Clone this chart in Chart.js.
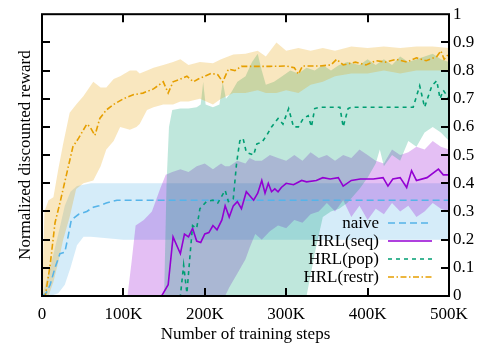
<!DOCTYPE html>
<html>
<head>
<meta charset="utf-8">
<script src="https://cdn.jsdelivr.net/npm/chart.js@4.4.0/dist/chart.umd.min.js"></script>
<style>
  html, body { margin: 0; padding: 0; background: #fff; }
  #wrap { width: 479px; height: 346px; }
</style>
</head>
<body>
<div id="wrap"><canvas id="chart" width="479" height="346"></canvas></div>
<script>
// steps are in thousands (K)

// naive
const naiveSteps = [0, 5, 10, 16, 22, 28, 32, 36, 45, 55, 63, 70, 79, 92, 500];
const naiveMean = [0, 0.01, 0.04, 0.1, 0.15, 0.155, 0.21, 0.27, 0.29, 0.3, 0.315, 0.32, 0.33, 0.34, 0.34];
const naiveBandSteps = [0, 10, 20, 28, 35, 43, 51, 60, 100, 500];
const naiveLow = [0, 0, 0.01, 0.04, 0.1, 0.18, 0.21, 0.21, 0.2, 0.2];
const naiveHigh = [0, 0.1, 0.22, 0.32, 0.37, 0.39, 0.395, 0.4, 0.4, 0.4];

// HRL(seq)
const seqSteps = [0, 147, 155, 161, 170, 175, 180, 185, 190, 195, 200, 205, 210, 215, 221, 225, 230, 235, 240, 245,
  251, 260, 265, 270, 274, 278, 282, 286, 290, 294, 300, 309, 319, 325, 337, 345, 354, 364, 370, 380,
  391, 407, 419, 425, 431, 440, 448, 454, 460, 473, 487, 493, 500];
const seqMean = [0, 0, 0.04, 0.21, 0.15, 0.22, 0.21, 0.24, 0.195, 0.19, 0.22, 0.225, 0.25, 0.235, 0.27, 0.32, 0.28, 0.32, 0.335, 0.31,
  0.37, 0.34, 0.365, 0.41, 0.365, 0.40, 0.37, 0.38, 0.37, 0.385, 0.40, 0.395, 0.41, 0.405, 0.41, 0.42, 0.415, 0.42, 0.39, 0.41,
  0.415, 0.415, 0.42, 0.39, 0.415, 0.42, 0.385, 0.445, 0.41, 0.42, 0.45, 0.43, 0.43];
const seqBandSteps = [0, 105, 110, 115, 125, 135, 145, 152, 160, 170, 180, 190, 200, 210, 220, 225, 230, 240, 250, 255,
  262, 270, 280, 290, 300, 310, 320, 330, 340, 350, 360, 370, 380, 390, 400, 410, 420, 430, 440, 450,
  460, 470, 480, 490, 500];
const seqLow = [0, 0, 0, 0, 0, 0, 0, 0, 0, 0, 0, 0, 0, 0, 0, 0, 0.03, 0.08, 0.13, 0.17,
  0.22, 0.2, 0.23, 0.25, 0.24, 0.27, 0.26, 0.29, 0.3, 0.33, 0.3, 0.34, 0.28, 0.32, 0.27, 0.31, 0.29, 0.33, 0.3, 0.32,
  0.28, 0.3, 0.33, 0.31, 0.3];
const seqHigh = [0, 0, 0.12, 0.25, 0.27, 0.3, 0.38, 0.43, 0.44, 0.45, 0.44, 0.46, 0.47, 0.45, 0.47, 0.46, 0.46, 0.48, 0.47, 0.49,
  0.48, 0.48, 0.5, 0.49, 0.48, 0.5, 0.48, 0.51, 0.49, 0.5, 0.48, 0.5, 0.49, 0.52, 0.5, 0.48, 0.47, 0.52, 0.5, 0.51,
  0.53, 0.52, 0.55, 0.53, 0.52];

// HRL(pop)
const popSteps = [0, 170, 174, 178, 182, 185, 190, 194, 202, 210, 216, 225, 229, 235, 239, 243, 247, 251, 260, 264,
  270, 276, 282, 290, 296, 303, 309, 315, 321, 327, 331, 335, 341, 366, 370, 376, 380, 456, 464, 470,
  479, 485, 489, 493, 500];
const popMean = [0, 0, 0.11, 0.01, 0.15, 0.25, 0.24, 0.31, 0.335, 0.34, 0.33, 0.375, 0.335, 0.345, 0.47, 0.55, 0.56, 0.51, 0.5, 0.54,
  0.545, 0.57, 0.6, 0.63, 0.61, 0.665, 0.6, 0.6, 0.63, 0.64, 0.6, 0.665, 0.67, 0.67, 0.6, 0.665, 0.67, 0.67, 0.746, 0.67,
  0.746, 0.764, 0.7, 0.73, 0.7];
const popBandSteps = [0, 150, 153, 156, 160, 170, 180, 190, 195, 198, 201, 210, 218, 222, 226, 232, 240, 250, 258, 265,
  270, 275, 285, 295, 305, 315, 325, 335, 345, 355, 365, 375, 390, 400, 410, 415, 420, 430, 440, 450,
  460, 470, 480, 490, 500];
const popLow = [0, 0, 0, 0, 0, 0, 0, 0, 0, 0, 0, 0, 0, 0, 0, 0, 0, 0, 0, 0,
  0, 0, 0, 0, 0, 0, 0, 0.15, 0.28, 0.3, 0.31, 0.33, 0.38, 0.42, 0.47, 0.52, 0.46, 0.5, 0.48, 0.55,
  0.53, 0.58, 0.6, 0.58, 0.55];
const popHigh = [0, 0, 0.4, 0.6, 0.66, 0.665, 0.665, 0.67, 0.68, 0.76, 0.68, 0.67, 0.68, 0.76, 0.7, 0.72, 0.76, 0.78, 0.83, 0.86,
  0.8, 0.75, 0.76, 0.78, 0.8, 0.79, 0.81, 0.8, 0.82, 0.8, 0.82, 0.83, 0.82, 0.84, 0.82, 0.83, 0.84, 0.82, 0.85, 0.83,
  0.84, 0.85, 0.86, 0.84, 0.83];

// HRL(restr)
const restrSteps = [0, 4, 10, 16, 22, 30, 38, 45, 51, 55, 59, 65, 71, 79, 88, 100, 112, 124, 137, 149,
  155, 161, 170, 178, 186, 192, 200, 208, 216, 222, 229, 237, 245, 260, 280, 300, 310, 315, 320, 340,
  355, 362, 370, 385, 398, 410, 422, 435, 448, 460, 472, 485, 490, 494, 500];
const restrMean = [0, 0, 0.11, 0.26, 0.33, 0.43, 0.53, 0.56, 0.59, 0.61, 0.6, 0.57, 0.63, 0.66, 0.68, 0.70, 0.714, 0.72, 0.735, 0.76,
  0.72, 0.76, 0.77, 0.78, 0.76, 0.77, 0.78, 0.79, 0.785, 0.76, 0.805, 0.8, 0.815, 0.815, 0.815, 0.816, 0.81, 0.787, 0.816, 0.816,
  0.82, 0.84, 0.82, 0.83, 0.82, 0.835, 0.83, 0.84, 0.83, 0.845, 0.835, 0.85, 0.87, 0.84, 0.86];
const restrBandSteps = [0, 3, 8, 14, 20, 26, 34, 42, 51, 63, 72, 79, 88, 96, 108, 116, 120, 129, 137, 149,
  161, 170, 180, 194, 210, 220, 235, 250, 265, 275, 288, 300, 315, 330, 345, 360, 380, 400, 420, 440,
  460, 480, 500];
const restrLow = [0, 0, 0, 0.05, 0.12, 0.2, 0.28, 0.38, 0.4, 0.41, 0.46, 0.52, 0.55, 0.6, 0.59, 0.6, 0.61, 0.66, 0.67, 0.68,
  0.68, 0.69, 0.69, 0.7, 0.68, 0.7, 0.72, 0.72, 0.73, 0.72, 0.72, 0.73, 0.72, 0.75, 0.76, 0.78, 0.79, 0.79, 0.8, 0.79,
  0.8, 0.8, 0.8];
const restrHigh = [0, 0.3, 0.34, 0.35, 0.45, 0.54, 0.65, 0.68, 0.71, 0.76, 0.74, 0.74, 0.77, 0.78, 0.8, 0.8, 0.79, 0.8, 0.81, 0.82,
  0.83, 0.84, 0.82, 0.83, 0.826, 0.84, 0.857, 0.86, 0.87, 0.85, 0.9, 0.87, 0.88, 0.87, 0.88, 0.87, 0.885, 0.88, 0.885, 0.88,
  0.885, 0.885, 0.88];

const legendLabels = ['naive', 'HRL(seq)', 'HRL(pop)', 'HRL(restr)'];

const colors = {
  naive: '#56b4e9',
  seq: '#9400d3',
  pop: '#009e73',
  restr: '#e69f00',
};
const bandColors = {
  naive: 'rgba(86, 180, 233, 0.25)',
  seq: 'rgba(148, 0, 211, 0.25)',
  pop: 'rgba(0, 158, 115, 0.25)',
  restr: 'rgba(230, 159, 0, 0.25)',
};

function toPoints(steps, values) {
  return steps.map((s, i) => ({ x: s, y: values[i] }));
}

function lineSet(label, steps, values, color, dash) {
  return {
    label: label,
    data: toPoints(steps, values),
    borderColor: color,
    borderWidth: 1.6,
    borderDash: dash,
    pointRadius: 0,
    tension: 0,
    fill: false,
  };
}

function bandPair(steps, low, high, color) {
  const base = {
    pointRadius: 0,
    borderWidth: 0,
    borderColor: 'rgba(0,0,0,0)',
    tension: 0,
  };
  return [
    Object.assign({ label: '', data: toPoints(steps, low), fill: false }, base),
    Object.assign({ label: '', data: toPoints(steps, high), fill: '-1', backgroundColor: color }, base),
  ];
}

// first index is drawn on top
const datasets = [
  lineSet('HRL(restr)', restrSteps, restrMean, colors.restr, [6, 2.5, 1.5, 2.5]),
  lineSet('HRL(pop)', popSteps, popMean, colors.pop, [4, 4]),
  lineSet('HRL(seq)', seqSteps, seqMean, colors.seq, []),
  lineSet('naive', naiveSteps, naiveMean, colors.naive, [7, 4]),
  ...bandPair(restrBandSteps, restrLow, restrHigh, bandColors.restr),
  ...bandPair(popBandSteps, popLow, popHigh, bandColors.pop),
  ...bandPair(seqBandSteps, seqLow, seqHigh, bandColors.seq),
  ...bandPair(naiveBandSteps, naiveLow, naiveHigh, bandColors.naive),
];

// gnuplot style frame with inward ticks, plus key in the lower right
const framePlugin = {
  id: 'frame',
  afterDraw(chart) {
    const ctx = chart.ctx;
    const area = chart.chartArea;
    const xs = chart.scales.x;
    const ys = chart.scales.y;
    const tickLen = 8;
    ctx.save();
    ctx.strokeStyle = '#000';
    ctx.lineWidth = 2;
    ctx.beginPath();
    for (let v = 100; v < 500; v += 100) {
      const px = Math.round(xs.getPixelForValue(v));
      ctx.moveTo(px, area.bottom);
      ctx.lineTo(px, area.bottom - tickLen);
      ctx.moveTo(px, area.top);
      ctx.lineTo(px, area.top + tickLen);
    }
    for (let i = 1; i < 10; i++) {
      const py = Math.round(ys.getPixelForValue(i / 10));
      ctx.moveTo(area.left, py);
      ctx.lineTo(area.left + tickLen, py);
      ctx.moveTo(area.right, py);
      ctx.lineTo(area.right - tickLen, py);
    }
    ctx.stroke();
    ctx.strokeRect(area.left, area.top, area.right - area.left, area.bottom - area.top);

    // key
    ctx.font = '17px "Liberation Serif"';
    ctx.textAlign = 'right';
    ctx.textBaseline = 'middle';
    legendLabels.forEach((label, i) => {
      const ds = chart.data.datasets.find(d => d.label === label);
      const y = 223 + i * 18;
      ctx.fillStyle = '#000';
      ctx.fillText(label, 379, y + 1);
      ctx.strokeStyle = ds.borderColor;
      ctx.lineWidth = ds.borderWidth;
      ctx.setLineDash(ds.borderDash || []);
      ctx.beginPath();
      ctx.moveTo(388, y);
      ctx.lineTo(432, y);
      ctx.stroke();
    });
    ctx.restore();
  },
};

Chart.defaults.font.family = '"Liberation Serif", "Times New Roman", serif';
Chart.defaults.font.size = 17;
Chart.defaults.color = '#000';

new Chart(document.getElementById('chart'), {
  type: 'line',
  data: { datasets: datasets },
  options: {
    responsive: false,
    animation: false,
    events: [],
    layout: { padding: { top: 9, right: 0, bottom: 0, left: 0 } },
    plugins: {
      legend: { display: false },
      tooltip: { enabled: false },
      filler: { propagate: false },
    },
    scales: {
      x: {
        type: 'linear',
        min: 0,
        max: 500,
        grid: { display: false, drawTicks: false },
        border: { display: false },
        ticks: {
          stepSize: 100,
          maxRotation: 0,
          padding: 8,
          callback: v => (v === 0 ? '0' : v + 'K'),
        },
        title: {
          display: true,
          text: 'Number of training steps',
          padding: { top: 0, bottom: 1 },
        },
        afterFit: s => { s.height = 50; },
      },
      y: {
        position: 'right',
        min: 0,
        max: 1,
        grid: { display: false, drawTicks: false },
        border: { display: false },
        ticks: {
          stepSize: 0.1,
          padding: 4,
          callback: v => String(+v.toFixed(1)),
        },
        afterFit: s => { s.width = 30; },
      },
      yl: {
        position: 'left',
        min: 0,
        max: 1,
        grid: { display: false, drawTicks: false },
        border: { display: false },
        ticks: { display: false },
        title: {
          display: true,
          text: 'Normalized discounted reward',
          padding: { top: 15, bottom: 0 },
        },
        afterFit: s => { s.width = 42; },
      },
    },
  },
  plugins: [framePlugin],
});
</script>
</body>
</html>
